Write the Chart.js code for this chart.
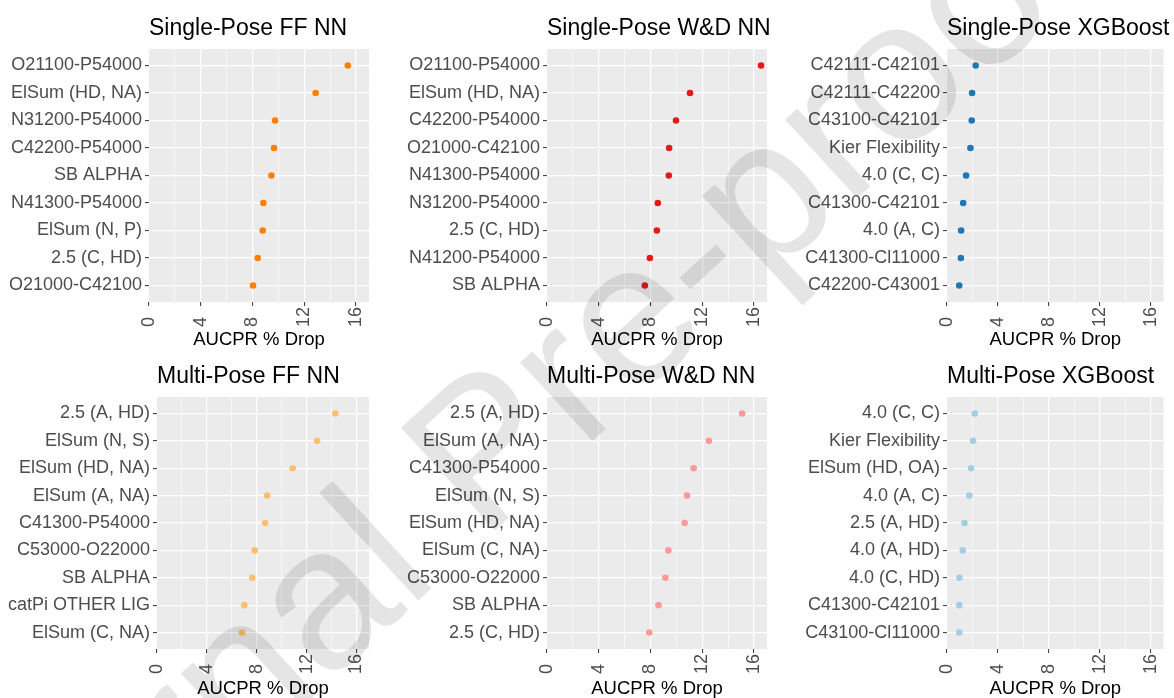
<!DOCTYPE html>
<html>
<head>
<meta charset="utf-8">
<title>AUCPR % Drop – feature importance</title>
<script src="https://cdn.jsdelivr.net/npm/chart.js@4.4.1/dist/chart.umd.min.js"></script>
<style>
    html, body { margin: 0; padding: 0; background: #fff; }
    #page { position: relative; width: 1174px; height: 698px; overflow: hidden; }
    #page canvas { position: absolute; }
    #watermark { position: absolute; left: 0; top: 0; pointer-events: none; }
</style>
</head>
<body>
<div id="page">
    <canvas id="spFf"></canvas>
    <canvas id="spWd"></canvas>
    <canvas id="spXgb"></canvas>
    <canvas id="mpFf"></canvas>
    <canvas id="mpWd"></canvas>
    <canvas id="mpXgb"></canvas>
    <svg id="watermark" width="1174" height="698">
        <text x="-47" y="1027" transform="rotate(-42.5 -47 1027)"
              font-family="Liberation Sans, Arial, sans-serif" font-size="202"
              fill="#000" fill-opacity="0.1">Journal Pre-proof</text>
    </svg>
</div>
<script>
// ─── Data (top to bottom, as plotted) ─────────────────
const spFfLabels = ['O21100-P54000', 'ElSum (HD, NA)', 'N31200-P54000', 'C42200-P54000', 'SB ALPHA',
                    'N41300-P54000', 'ElSum (N, P)', '2.5 (C, HD)', 'O21000-C42100'];
const spFfValues = [15.36, 12.88, 9.74, 9.66, 9.46, 8.84, 8.79, 8.40, 8.04];

const spWdLabels = ['O21100-P54000', 'ElSum (HD, NA)', 'C42200-P54000', 'O21000-C42100', 'N41300-P54000',
                    'N31200-P54000', '2.5 (C, HD)', 'N41200-P54000', 'SB ALPHA'];
const spWdValues = [16.54, 11.05, 9.97, 9.44, 9.41, 8.56, 8.49, 7.95, 7.56];

const spXgbLabels = ['C42111-C42101', 'C42111-C42200', 'C43100-C42101', 'Kier Flexibility', '4.0 (C, C)',
                     'C41300-C42101', '4.0 (A, C)', 'C41300-Cl11000', 'C42200-C43001'];
const spXgbValues = [2.25, 1.97, 1.94, 1.84, 1.50, 1.27, 1.11, 1.09, 0.96];

const mpFfLabels = ['2.5 (A, HD)', 'ElSum (N, S)', 'ElSum (HD, NA)', 'ElSum (A, NA)', 'C41300-P54000',
                    'C53000-O22000', 'SB ALPHA', 'catPi OTHER LIG', 'ElSum (C, NA)'];
const mpFfValues = [14.30, 12.84, 10.88, 8.84, 8.67, 7.83, 7.64, 7.00, 6.82];

const mpWdLabels = ['2.5 (A, HD)', 'ElSum (A, NA)', 'C41300-P54000', 'ElSum (N, S)', 'ElSum (HD, NA)',
                    'ElSum (C, NA)', 'C53000-O22000', 'SB ALPHA', '2.5 (C, HD)'];
const mpWdValues = [15.08, 12.51, 11.33, 10.82, 10.64, 9.38, 9.15, 8.62, 7.90];

const mpXgbLabels = ['4.0 (C, C)', 'Kier Flexibility', 'ElSum (HD, OA)', '4.0 (A, C)', '2.5 (A, HD)',
                     '4.0 (A, HD)', '4.0 (C, HD)', 'C41300-C42101', 'C43100-Cl11000'];
const mpXgbValues = [2.18, 2.05, 1.89, 1.76, 1.37, 1.24, 0.98, 0.96, 0.96];

const xTickValues = [0, 2, 4, 6, 8, 10, 12, 14, 16];   // labelled every 4, minor grid in between
const xMax = 17;
const xTitle = 'AUCPR % Drop';

const FONT = '"Liberation Sans", Arial, Helvetica, sans-serif';

// ─── Panel placement (canvas box / plot area, page px) ─
const panels = [
    { id: 'spFf',  title: 'Single-Pose FF NN',   labels: spFfLabels,  values: spFfValues,  color: '#ff7f00', box: [0, 0, 390, 349],     area: [149, 49, 369, 302] },
    { id: 'spWd',  title: 'Single-Pose W&D NN',  labels: spWdLabels,  values: spWdValues,  color: '#e31a1c', box: [390, 0, 390, 349],   area: [547, 49, 767, 302] },
    { id: 'spXgb', title: 'Single-Pose XGBoost', labels: spXgbLabels, values: spXgbValues, color: '#1f78b4', box: [780, 0, 394, 349],   area: [947, 49, 1165, 302] },
    { id: 'mpFf',  title: 'Multi-Pose FF NN',    labels: mpFfLabels,  values: mpFfValues,  color: '#fdbf6f', box: [0, 349, 390, 349],   area: [157, 397, 369, 649] },
    { id: 'mpWd',  title: 'Multi-Pose W&D NN',   labels: mpWdLabels,  values: mpWdValues,  color: '#fb9a99', box: [390, 349, 390, 349], area: [547, 397, 767, 649] },
    { id: 'mpXgb', title: 'Multi-Pose XGBoost',  labels: mpXgbLabels, values: mpXgbValues, color: '#a6cee3', box: [780, 349, 394, 349], area: [947, 397, 1165, 649] }
];

// grey ggplot-like panel
const panelBackground = {
    id: 'panelBackground',
    beforeDraw(chart) {
        const { ctx, chartArea: a } = chart;
        ctx.save();
        ctx.fillStyle = '#ebebeb';
        ctx.fillRect(a.left, a.top, a.right - a.left, a.bottom - a.top);
        ctx.restore();
    }
};

// title left-aligned with the plot area
const panelTitle = {
    id: 'panelTitle',
    afterDraw(chart, args, opts) {
        const { ctx, chartArea: a } = chart;
        ctx.save();
        ctx.font = '23px ' + FONT;
        ctx.fillStyle = '#000';
        ctx.textAlign = 'left';
        ctx.textBaseline = 'alphabetic';
        ctx.fillText(opts.text, a.left, a.top - 14);
        ctx.restore();
    }
};

function makePanel(p) {
    const [bx, by, bw, bh] = p.box;
    const [al, at, ar, ab] = p.area;
    const n = p.labels.length;
    const canvas = document.getElementById(p.id);
    canvas.width = bw;
    canvas.height = bh;
    canvas.style.left = bx + 'px';
    canvas.style.top = by + 'px';

    const yWidth = al - bx;
    const xHeight = by + bh - ab;

    new Chart(canvas, {
        type: 'scatter',
        data: {
            datasets: [{
                data: p.values.map((v, i) => ({ x: v, y: n - 1 - i })),
                backgroundColor: p.color,
                borderWidth: 0,
                pointRadius: 3.3
            }]
        },
        options: {
            responsive: false,
            animation: false,
            devicePixelRatio: 1,
            layout: {
                autoPadding: false,
                padding: { left: 0, top: at - by, right: bx + bw - ar, bottom: 0 }
            },
            plugins: {
                legend: { display: false },
                tooltip: { enabled: false },
                panelTitle: { text: p.title }
            },
            scales: {
                x: {
                    type: 'linear',
                    min: 0,
                    max: xMax,
                    afterBuildTicks: s => { s.ticks = xTickValues.map(v => ({ value: v })); },
                    afterFit: s => { s.height = xHeight; },
                    border: { display: false },
                    grid: {
                        color: '#ffffff',
                        lineWidth: c => (c.tick && c.tick.value % 4 === 0) ? 1.2 : 0.6,
                        tickLength: 4,
                        tickWidth: 1,
                        tickColor: c => (c.tick && c.tick.value % 4 === 0) ? '#333333' : 'rgba(0,0,0,0)'
                    },
                    ticks: {
                        autoSkip: false,
                        minRotation: 90,
                        maxRotation: 90,
                        padding: 1,
                        color: '#4d4d4d',
                        font: { family: FONT, size: 18 },
                        // pad single digits so the rotated labels line up at the bottom
                        callback: v => v % 4 === 0 ? String(v) + (v < 10 ? '  ' : '') : ''
                    },
                    title: {
                        display: true,
                        text: xTitle,
                        color: '#000',
                        font: { family: FONT, size: 18.5, lineHeight: 0.95 },
                        padding: { top: 0, bottom: 0 }
                    }
                },
                y: {
                    type: 'linear',
                    min: -0.6,
                    max: n - 1 + 0.6,
                    afterBuildTicks: s => { s.ticks = p.labels.map((_, i) => ({ value: i })); },
                    afterFit: s => { s.width = yWidth; },
                    border: { display: false },
                    grid: {
                        color: '#ffffff',
                        lineWidth: 1.2,
                        tickLength: 4,
                        tickWidth: 1,
                        tickColor: '#333333'
                    },
                    ticks: {
                        autoSkip: false,
                        padding: 3,
                        color: '#4d4d4d',
                        font: { family: FONT, size: 18 },
                        callback: v => p.labels[n - 1 - v]
                    }
                }
            }
        },
        plugins: [panelBackground, panelTitle]
    });
}

panels.forEach(makePanel);
</script>
</body>
</html>
